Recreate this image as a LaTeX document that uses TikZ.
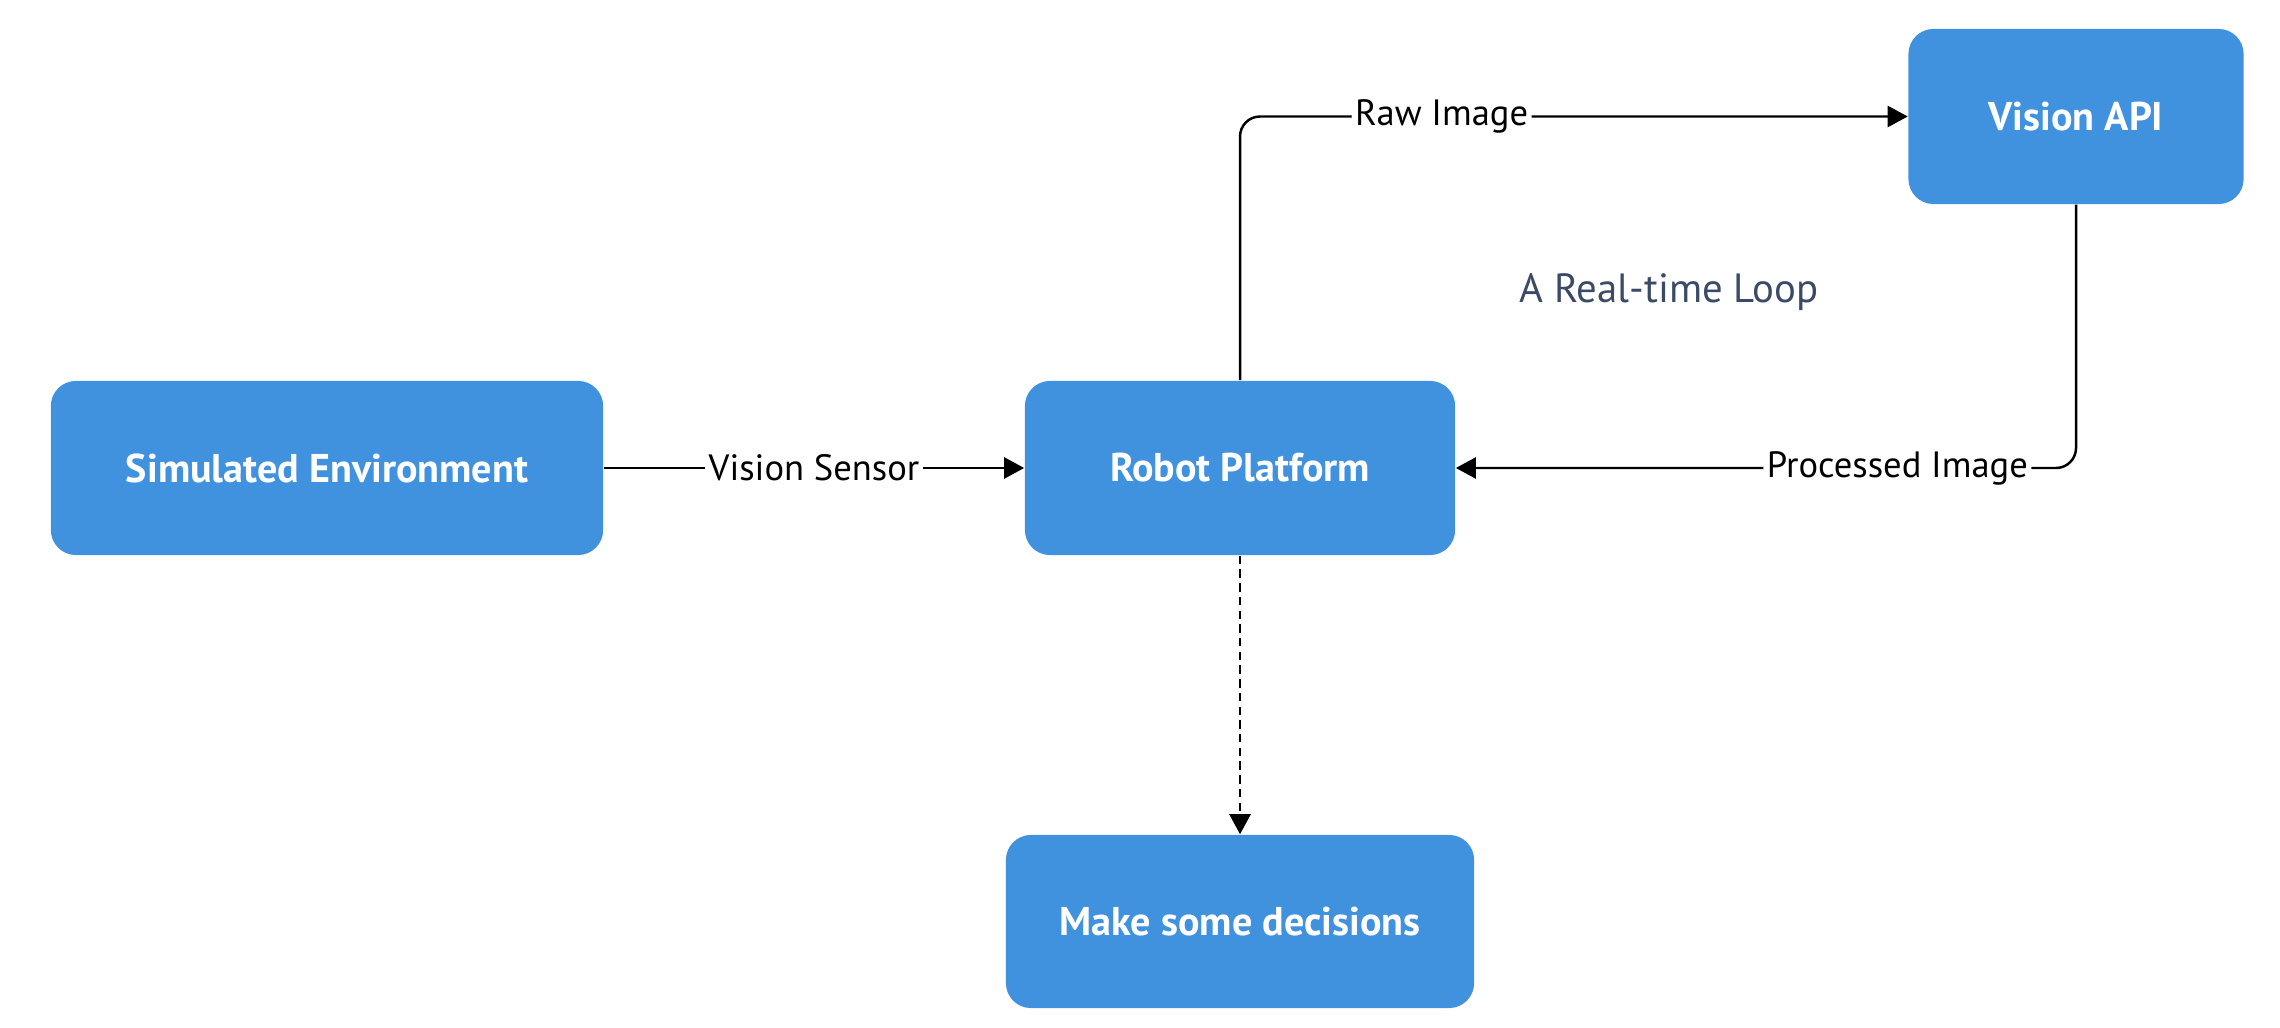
\documentclass[tikz,border=0pt]{standalone}
\usepackage{fontspec}
\setmainfont{PT Sans}
\usetikzlibrary{arrows.meta}
\definecolor{boxblue}{RGB}{65,146,222}
\definecolor{loopgray}{RGB}{59,74,102}
\begin{document}
\begin{tikzpicture}[
	x = 0.01cm, y = -0.01cm,
	block/.style = {fill = boxblue, rounded corners = 0.25cm, text = white, inner sep = 0pt, align = center, font = \fontsize{11.4}{13}\selectfont\bfseries},
	link/.style = {-{Triangle[length = 0.2cm, width = 0.21cm]}, line width = 0.7pt},
	tag/.style = {fill = white, inner sep = 1pt, font = \fontsize{10.4}{12}\selectfont}
	]
	%	frame
	\useasboundingbox (0, 0) rectangle (2280, 1028);
	
	%	boxes
	\node[block, minimum width = 5.52cm, minimum height = 1.74cm] (sim) at (327, 468) {Simulated Environment};
	\node[block, minimum width = 4.30cm, minimum height = 1.74cm] (robot) at (1240, 468) {Robot Platform};
	\node[block, minimum width = 3.35cm, minimum height = 1.75cm] (vision) at (2076, 116.5) {Vision API};
	\node[block, minimum width = 4.68cm, minimum height = 1.73cm] (decide) at (1240, 921.5) {Make some decisions};
	\node[anchor = base, text = loopgray, font = \fontsize{11.6}{13}\selectfont] (loop) at (1669, 303) {A Real-time Loop};
	
	%	links
	\draw[link] (sim) -- node[tag] {Vision Sensor} (robot);
	\draw[link, rounded corners = 0.2cm] (robot.north) |- node[tag, pos = 0.651] {Raw Image} (vision.west);
	\draw[link, rounded corners = 0.2cm] (vision.south) |- node[tag, pos = 0.644] {Processed Image} (robot.east);
	\draw[link, dash pattern = on 2.4pt off 1.5pt] (robot.south) -- (decide.north);
\end{tikzpicture}
\end{document}
